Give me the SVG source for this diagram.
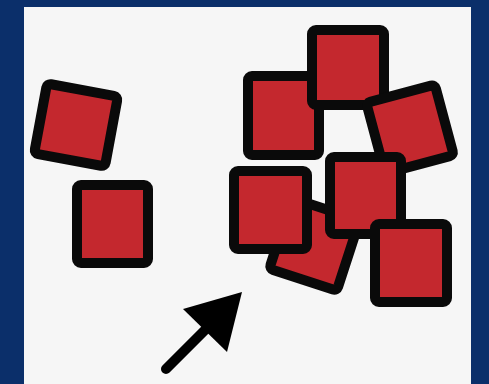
<svg xmlns="http://www.w3.org/2000/svg" width="489" height="384" viewBox="0 0 489 384">
<style>
.sq{fill:#c4282e;stroke:#0a0a0a;stroke-width:10;stroke-linejoin:round}
</style>
<rect x="0" y="0" width="489" height="384" fill="#0b2f6a"/>
<rect x="24" y="7" width="447" height="380" fill="#f6f6f6"/>
<g id="sq1"><rect class="sq" x="-36" y="-35.5" width="72" height="71" rx="4" transform="translate(76 125) rotate(10.5)"/></g>
<g id="sq2"><rect class="sq" x="77" y="185" width="71" height="78" rx="4"/></g>
<g id="sqA"><rect class="sq" x="248" y="76" width="71" height="79" rx="4"/></g>
<g id="sqB"><rect class="sq" x="312" y="30" width="72" height="75" rx="4"/></g>
<g id="sqC"><rect class="sq" x="-35.5" y="-36.5" width="71" height="73" rx="4" transform="translate(410 129) rotate(-15)"/></g>
<g id="sqF"><rect class="sq" x="-35.5" y="-37" width="71" height="74" rx="4" transform="translate(314.5 244.5) rotate(18)"/></g>
<g id="sqE"><rect class="sq" x="330" y="157" width="71" height="77" rx="4"/></g>
<g id="sqD"><rect class="sq" x="234" y="171" width="73" height="78" rx="4"/></g>
<g id="sqG"><rect class="sq" x="375" y="224" width="72" height="78" rx="4"/></g>
<g id="connectors">
<line x1="166" y1="369" x2="208" y2="327" stroke="#000" stroke-width="10" stroke-linecap="round"/>
<polygon points="183,309 242,292 227,352" fill="#000"/>
</g>
</svg>
